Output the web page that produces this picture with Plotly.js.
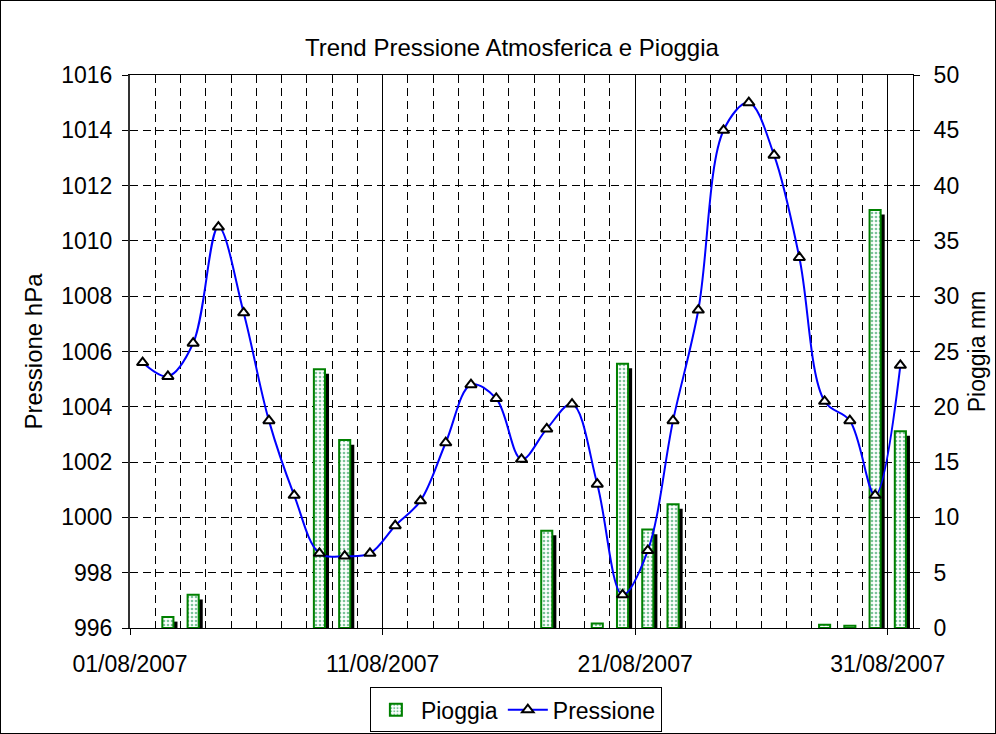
<!DOCTYPE html>
<html>
<head>
<meta charset="utf-8">
<script src="https://cdn.plot.ly/plotly-3.0.1.min.js"></script>
<style>
  body { margin: 0; background: #fff; }
  #container { width: 994px; height: 732px; border: 1px solid #000; }
</style>
</head>
<body>
<div id="container"></div>
<script>
// giorni di agosto 2007
var giorni = [
  '2007-08-01','2007-08-02','2007-08-03','2007-08-04','2007-08-05','2007-08-06','2007-08-07','2007-08-08',
  '2007-08-09','2007-08-10','2007-08-11','2007-08-12','2007-08-13','2007-08-14','2007-08-15','2007-08-16',
  '2007-08-17','2007-08-18','2007-08-19','2007-08-20','2007-08-21','2007-08-22','2007-08-23','2007-08-24',
  '2007-08-25','2007-08-26','2007-08-27','2007-08-28','2007-08-29','2007-08-30','2007-08-31'
];

// pressione hPa
var pressione = [
  1005.6, 1005.1, 1006.3, 1010.5, 1007.4, 1003.5, 1000.8, 998.7,
  998.6, 998.7, 999.7, 1000.6, 1002.7, 1004.8, 1004.3, 1002.1,
  1003.2, 1004.1, 1001.2, 997.2, 998.8, 1003.5, 1007.5, 1014.0,
  1015.0, 1013.1, 1009.4, 1004.2, 1003.5, 1000.8, 1005.5
];

// pioggia mm (null = nessuna pioggia)
var pioggia = [
  null, 1.0, 3.0, null, null, null, null, 23.4,
  17.0, null, null, null, null, null, null, null,
  8.8, null, 0.4, 23.9, 8.9, 11.2, null, null,
  null, null, null, 0.3, 0.2, 37.8, 17.8
];

var font = 'Liberation Sans, Arial, sans-serif';
var giorno = 86400000;
var larghezza = 0.44 * giorno;

var ombra = {
  x: giorni, y: pioggia,
  xperiod: giorno, xperiodalignment: 'middle',
  type: 'bar', yaxis: 'y',
  width: larghezza, offset: -larghezza / 2 + 0.16 * giorno,
  marker: { color: '#000' },
  showlegend: false, hoverinfo: 'skip'
};

var barre = {
  x: giorni, y: pioggia,
  xperiod: giorno, xperiodalignment: 'middle',
  type: 'bar', yaxis: 'y2', name: 'Pioggia',
  width: larghezza,
  marker: {
    color: '#fff',
    line: { color: '#008000', width: 2 },
    pattern: { shape: '.', fgcolor: '#7cc49a', bgcolor: '#fff', size: 4, solidity: 0.35 }
  }
};

var linea = {
  x: giorni, y: pressione,
  xperiod: giorno, xperiodalignment: 'middle',
  type: 'scatter', mode: 'lines+markers', yaxis: 'y3', name: 'Pressione',
  line: { color: '#0000ff', width: 2, shape: 'spline', smoothing: 1 },
  marker: { symbol: 'triangle-up', size: 10, color: '#fff', line: { color: '#000', width: 2 } }
};

var data = [ombra, barre, linea];

var layout = {
  width: 994,
  height: 732,
  margin: { l: 129, r: 82, t: 74, b: 105 },
  paper_bgcolor: '#fff',
  plot_bgcolor: '#fff',
  font: { family: font, size: 23, color: '#000' },
  showlegend: true,
  barmode: 'overlay',
  title: {
    text: 'Trend Pressione Atmosferica e Pioggia',
    font: { size: 24 },
    x: 0.514, xref: 'container', xanchor: 'center',
    y: 0.937, yref: 'container', yanchor: 'middle'
  },
  xaxis: {
    type: 'date',
    range: ['2007-08-01', '2007-09-01'],
    tick0: '2007-08-01', dtick: 10 * giorno,
    tickformat: '%d/%m/%Y',
    ticks: 'outside', ticklen: 6, tickcolor: '#000',
    ticklabelstandoff: 9,
    showline: true, linecolor: '#000', linewidth: 1, mirror: true,
    showgrid: true, gridcolor: '#000', gridwidth: 1,
    minor: { dtick: giorno, tick0: '2007-08-01', showgrid: true, gridcolor: '#000', griddash: '8px,5px', gridwidth: 1 },
    zeroline: false
  },
  yaxis: {
    range: [0.42, 50.42],
    visible: false, showgrid: false, zeroline: false
  },
  yaxis2: {
    overlaying: 'y', side: 'right', anchor: 'x',
    range: [0, 50], dtick: 5,
    ticks: 'outside', ticklen: 6, tickcolor: '#000',
    ticklabelstandoff: 9,
    showline: true, linecolor: '#000', linewidth: 1,
    showgrid: false, zeroline: false,
    title: { text: 'Pioggia mm', font: { size: 23 }, standoff: 10 }
  },
  yaxis3: {
    overlaying: 'y', side: 'left', anchor: 'x',
    range: [996, 1016], dtick: 2,
    ticks: 'outside', ticklen: 6, tickcolor: '#000',
    ticklabelstandoff: 5,
    showline: true, linecolor: '#333', linewidth: 2,
    showgrid: true, gridcolor: '#000', griddash: '8px,5px', gridwidth: 1,
    zeroline: false,
    title: { text: 'Pressione hPa', font: { size: 24 }, standoff: 12 }
  },
  legend: {
    orientation: 'h',
    xref: 'container', x: 0.518, xanchor: 'center',
    yref: 'container', y: 0.001, yanchor: 'bottom',
    bordercolor: '#000', borderwidth: 1,
    bgcolor: '#fff',
    itemwidth: 40,
    font: { size: 23 }
  }
};

Plotly.newPlot('container', data, layout, { displayModeBar: false });
</script>
</body>
</html>
